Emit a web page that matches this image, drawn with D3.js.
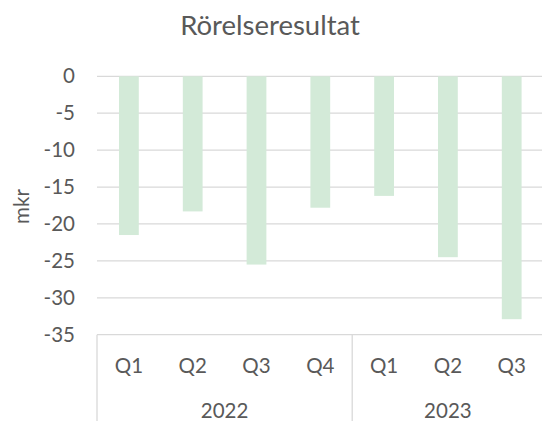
<!DOCTYPE html>
<html>
<head>
<meta charset="utf-8">
<script src="https://cdn.jsdelivr.net/npm/d3@7"></script>
<style>
  body { margin: 0; background: #fff; }
  svg text { font-family: Lato, "Open Sans", sans-serif; fill: #595959; }
</style>
</head>
<body>
<script>
// data
var quarters = ['Q1', 'Q2', 'Q3', 'Q4', 'Q1', 'Q2', 'Q3'];
var years = ['2022', '2022', '2022', '2022', '2023', '2023', '2023'];
var values = [-21.5, -18.3, -25.5, -17.8, -16.2, -24.5, -32.9];
var yTicks = [0, -5, -10, -15, -20, -25, -30, -35];
var yearGroups = ['2022', '2023'];

var W = 542, H = 421;
var plotLeft = 97, plotTop = 76.3, plotBottom = 334.7;
var step = 63.8;
var fs = '20.5px';

var svg = d3.select('body').append('svg')
  .attr('width', W)
  .attr('height', H);

var idx = d3.range(values.length);

var x = d3.scaleBand()
  .domain(idx)
  .range([plotLeft, plotLeft + step * values.length])
  .paddingInner(0.69)
  .paddingOuter(0.345);

var y = d3.scaleLinear()
  .domain([0, -35])
  .range([plotTop, plotBottom]);

// gridlines
svg.append('g').selectAll('line')
  .data(yTicks.slice(0, -1))
  .enter().append('line')
  .attr('x1', plotLeft).attr('x2', W + 5)
  .attr('y1', function (d) { return y(d); })
  .attr('y2', function (d) { return y(d); })
  .attr('stroke', '#d9d9d9')
  .attr('stroke-width', 1.3);

// y axis labels (plain hyphen, like the original)
var yAxis = d3.axisLeft(y).tickValues(yTicks).tickSize(0).tickPadding(22)
  .tickFormat(function (d) { return String(d); });
var ga = svg.append('g')
  .attr('transform', 'translate(' + plotLeft + ',0)')
  .call(yAxis);
ga.select('.domain').remove();
ga.selectAll('text')
  .style('font-size', fs)
  .attr('fill', '#595959');

// bars
svg.append('g').selectAll('rect')
  .data(idx)
  .enter().append('rect')
  .attr('x', function (i) { return x(i); })
  .attr('width', x.bandwidth())
  .attr('y', y(0))
  .attr('height', function (i) { return y(values[i]) - y(0); })
  .attr('fill', '#d3ead8');

// category axis line
svg.append('line')
  .attr('x1', plotLeft).attr('x2', W + 5)
  .attr('y1', plotBottom).attr('y2', plotBottom)
  .attr('stroke', '#d9d9d9')
  .attr('stroke-width', 1.3);

// group separators
var bounds = [0, 4, 7];
svg.append('g').selectAll('line')
  .data(bounds)
  .enter().append('line')
  .attr('x1', function (b) { return plotLeft + b * step; })
  .attr('x2', function (b) { return plotLeft + b * step; })
  .attr('y1', plotBottom)
  .attr('y2', H + 5)
  .attr('stroke', '#d9d9d9')
  .attr('stroke-width', 1.3);

// quarter labels
svg.append('g').selectAll('text')
  .data(idx)
  .enter().append('text')
  .attr('x', function (i) { return x(i) + x.bandwidth() / 2; })
  .attr('y', 373.3)
  .attr('text-anchor', 'middle')
  .style('font-size', fs)
  .text(function (i) { return quarters[i]; });

// year labels
svg.append('g').selectAll('text')
  .data(yearGroups)
  .enter().append('text')
  .attr('x', function (g) {
    var first = years.indexOf(g), last = years.lastIndexOf(g);
    return plotLeft + (first + last + 1) / 2 * step;
  })
  .attr('y', 418)
  .attr('text-anchor', 'middle')
  .style('font-size', fs)
  .text(function (g) { return g; });

// y title
svg.append('text')
  .attr('transform', 'translate(29,206.5) rotate(-90)')
  .attr('text-anchor', 'middle')
  .style('font-size', fs)
  .text('mkr');

// title
svg.append('text')
  .attr('x', 270)
  .attr('y', 35)
  .attr('text-anchor', 'middle')
  .style('font-size', '27.5px')
  .text('Rörelseresultat');
</script>
</body>
</html>
